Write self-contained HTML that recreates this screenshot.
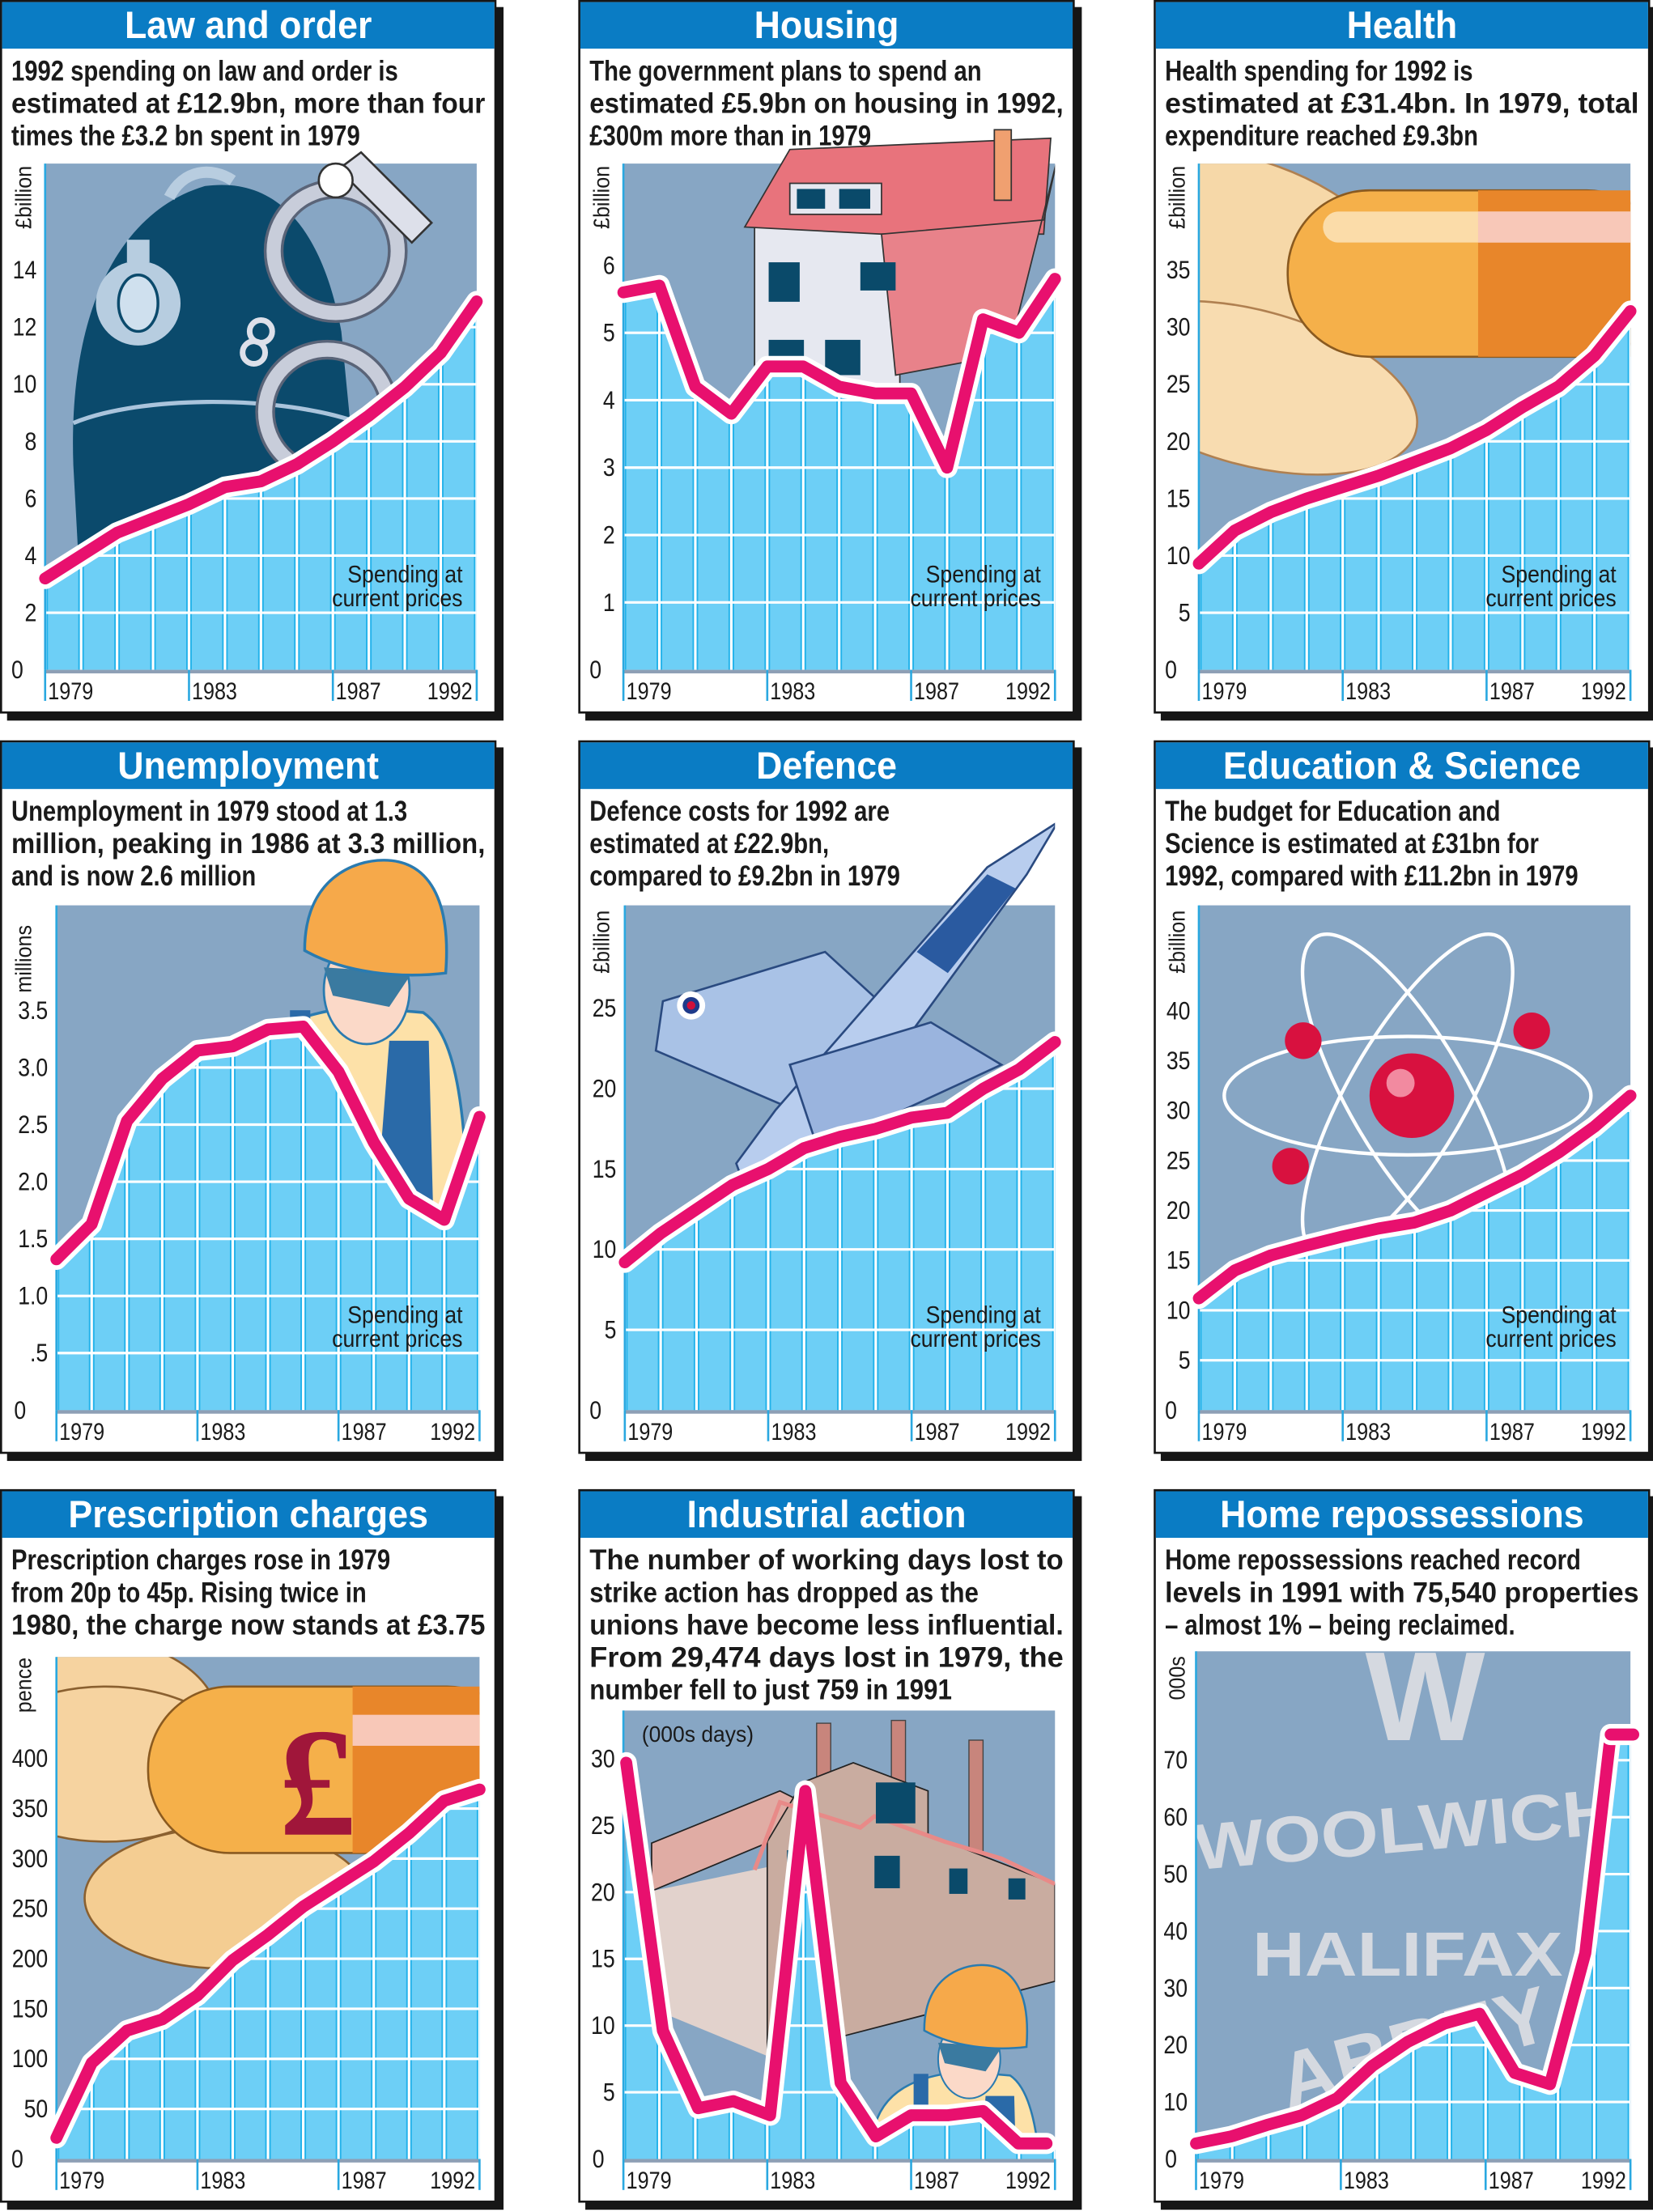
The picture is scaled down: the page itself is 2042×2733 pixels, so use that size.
<!DOCTYPE html>
<html><head><meta charset="utf-8">
<style>html,body{margin:0;padding:0;background:#fff}svg{display:block}</style>
</head><body>
<svg id="s" xmlns="http://www.w3.org/2000/svg" width="2042" height="2733" viewBox="0 0 1172 1568.6" font-family="'Liberation Sans', Arial, sans-serif"></svg>
<script>
const S=document.getElementById('s');
let out='';let cid=0;
function T(x,y,str,fs,opt){opt=opt||{};const sx=opt.sx||0.85;const w=opt.bold?'bold':'normal';
 const a=opt.anchor||'start';const fill=opt.fill||'#1a1a1a';
 let tl='';if(opt.max){const est=str.length*fs*0.57*sx;if(est>opt.max)tl=` textLength="${opt.max/sx}" lengthAdjust="spacingAndGlyphs"`;}
 const rot=opt.rot?` rotate(${opt.rot})`:'';
 return `<text transform="translate(${x},${y})${rot} scale(${sx},1)" font-size="${fs}" font-weight="${w}" text-anchor="${a}" fill="${fill}"${tl}>${str}</text>`;}
function panel(c){
 const L=c.left,R=c.right||338,Z=475,TOP=c.top;
 let g=`<g transform="translate(${c.x},${c.y})">`;
 g+=`<rect x="5" y="5" width="352" height="506" fill="#161616"/>`;
 g+=`<rect x="0.75" y="0.75" width="350.5" height="504.5" fill="#fff" stroke="#161616" stroke-width="1.5"/>`;
 g+=`<rect x="1.5" y="1.5" width="349" height="33" fill="#0a7cc4"/>`;
 g+=T(176,27,c.title,27,{bold:1,anchor:'middle',fill:'#fff',sx:0.95});
 const id='c'+(cid++);
 const n=c.vals.length;const xs=c.xs||c.vals.map((v,i)=>L+(R-L)*i/(n-1));
 const ys=c.vals;
 const ptop=c.ptop||TOP;
 g+=`<defs><clipPath id="${id}a"><rect x="${L}" y="${ptop}" width="${R-L}" height="${Z-ptop}"/></clipPath>`;
 let poly=xs.map((x,i)=>x+','+ys[i]).join(' ');
 let fillpts=poly+` ${R},${ys[n-1]} ${R},${Z} ${L},${Z}`;
 g+=`<clipPath id="${id}b"><polygon points="${fillpts}"/></clipPath></defs>`;
 g+=`<rect x="${L}" y="${TOP}" width="${R-L}" height="${Z-TOP}" fill="#87a6c4"/>`;
 g+=`<g clip-path="url(#${id}a)">${c.pic||''}</g>`;
 c.lines.forEach((l,i)=>{g+=T(8,57+i*23,l,20,{bold:1,max:336,sx:c.wide?0.9:0.84});});
 g+=`<polygon points="${fillpts}" fill="#6dcff6"/>`;
 g+=`<g clip-path="url(#${id}b)">`;
 for(let i=0;i<13;i++){const x=L+(R-L)*i/12;g+=`<line x1="${x}" y1="${TOP}" x2="${x}" y2="${Z}" stroke="#22b2ea" stroke-width="4"/><line x1="${x}" y1="${TOP}" x2="${x}" y2="${Z}" stroke="#fff" stroke-width="1.8"/>`;}
 c.ticks.forEach(t=>{if(t[1]<Z-2)g+=`<line x1="${L}" y1="${t[1]}" x2="${R}" y2="${t[1]}" stroke="#fff" stroke-width="1.8"/>`;});
 g+=`</g>`;
 g+=`<rect x="${L}" y="${Z}" width="${R-L}" height="2.5" fill="#8e9fb5"/>`;
 [0,4,8,12].forEach(i=>{const x=L+(R-L)*i/12;g+=`<line x1="${x}" y1="${Z}" x2="${x}" y2="${Z+22}" stroke="#2aa8e0" stroke-width="1.5"/>`;});
 g+=`<line x1="${L}" y1="${TOP}" x2="${L}" y2="${Z}" stroke="#2aa8e0" stroke-width="1.5"/>`;
 const fy=Z+21;
 g+=T(L+2,fy,'1979',17);g+=T(L+(R-L)/3+2,fy,'1983',17);g+=T(L+(R-L)*2/3+2,fy,'1987',17);g+=T(R-3,fy,'1992',17,{anchor:'end'});
 g+=`<polyline points="${poly}" fill="none" stroke="#fff" stroke-width="15" stroke-linejoin="round" stroke-linecap="round"/>`;
 g+=`<polyline points="${poly}" fill="none" stroke="#e8106e" stroke-width="8.5" stroke-linejoin="round" stroke-linecap="round"/>`;
 c.ticks.forEach(t=>{g+=T(t[2]!==undefined?t[2]:L-6,t[1]+6,t[0],18,{anchor:t[2]!==undefined?'start':'end'});});
 if(c.unit)g+=T(22,c.unitY,c.unit,16,{rot:-90,anchor:'middle',sx:0.9});
 if(c.spend){g+=T(328,413,'Spending at',17,{anchor:'end',sx:0.9});g+=T(328,430,'current prices',17,{anchor:'end',sx:0.9});}
 if(c.extra)g+=c.extra;
 g+='</g>';out+=g;}
function ticks(labels,step,zeroX){return labels.map((l,k)=>[l,475-k*step,k==0?zeroX:undefined]);}
function yv(vals,per){return vals.map(v=>475-v*per);}

const helmet=`<path d="M58,440 L52,330 C48,220 85,150 145,132 C195,125 228,160 242,235 L262,440 Z" fill="#0b4a6c"/>
<path d="M120,140 C130,120 150,118 165,128" stroke="#b8cde0" stroke-width="8" fill="none"/>
<path d="M52,300 C100,280 200,280 255,300" stroke="#aac4dc" stroke-width="3" fill="none"/>
<circle cx="98" cy="215" r="30" fill="#b7cde0"/><ellipse cx="98" cy="215" rx="14" ry="20" fill="#cfe0ee" stroke="#0b4a6c" stroke-width="2"/>
<rect x="90" y="170" width="16" height="16" fill="#b7cde0"/>
<circle cx="238" cy="178" r="44" fill="none" stroke="#5a6478" stroke-width="14"/><circle cx="238" cy="178" r="44" fill="none" stroke="#c8cdda" stroke-width="10"/>
<circle cx="232" cy="292" r="44" fill="none" stroke="#5a6478" stroke-width="14"/><circle cx="232" cy="292" r="44" fill="none" stroke="#c8cdda" stroke-width="10"/>
<polygon points="240,120 256,108 306,158 292,172" fill="#dde0ea" stroke="#333" stroke-width="1.5"/>
<circle cx="238" cy="128" r="12" fill="#fff" stroke="#333" stroke-width="1.5"/>
<circle cx="185" cy="235" r="8" fill="none" stroke="#dde0ea" stroke-width="4"/><circle cx="180" cy="250" r="8" fill="none" stroke="#dde0ea" stroke-width="4"/>`;
panel({x:0,y:0,title:'Law and order',lines:['1992 spending on law and order is','estimated at £12.9bn, more than four','times the £3.2 bn spent in 1979'],
 left:32,top:116,ptop:100,vals:yv([3.2,4.0,4.8,5.3,5.8,6.4,6.6,7.2,8.0,8.9,9.9,11.1,12.9],20.25),
 ticks:ticks(['0','2','4','6','8','10','12','14'],40.5,8),unit:'£billion',unitY:140,spend:1,pic:helmet});

const house=`<g transform="translate(0,6)"><polygon points="125,145 228,140 228,295 125,295" fill="#e6e8f0" stroke="#333" stroke-width="1"/>
<polygon points="118,155 150,100 335,92 330,160 215,160" fill="#e8737c" stroke="#333" stroke-width="1"/>
<polygon points="215,160 330,150 340,105 305,245 225,260" fill="#e8828a" stroke="#333" stroke-width="1"/>
<rect x="150" y="124" width="65" height="22" fill="#e6e8f0" stroke="#333"/><rect x="155" y="128" width="20" height="14" fill="#0a4a6a"/><rect x="185" y="128" width="22" height="14" fill="#0a4a6a"/>
<rect x="135" y="180" width="22" height="28" fill="#0a4a6a"/><rect x="135" y="235" width="25" height="25" fill="#0a4a6a"/><rect x="175" y="235" width="25" height="25" fill="#0a4a6a"/><rect x="200" y="180" width="25" height="20" fill="#0a4a6a"/>
<rect x="295" y="86" width="12" height="50" fill="#f0a070" stroke="#333"/></g>`;
panel({x:410,y:0,title:'Housing',lines:['The government plans to spend an','estimated £5.9bn on housing in 1992,','£300m more than in 1979'],
 left:32,top:116,ptop:85,vals:yv([5.6,5.7,4.2,3.8,4.5,4.5,4.2,4.1,4.1,3.0,5.2,5.0,5.8],47.8),
 ticks:ticks(['0','1','2','3','4','5','6'],47.8,8),unit:'£billion',unitY:140,spend:1,pic:house});

const pills=`<ellipse cx="70" cy="170" rx="110" ry="55" fill="#f6d8a8" stroke="#b08050" stroke-width="1.5" transform="rotate(20 70 170)"/>
<ellipse cx="70" cy="275" rx="120" ry="55" fill="#f8dcb0" stroke="#b08050" stroke-width="1.5" transform="rotate(15 70 275)"/>
<rect x="95" y="135" width="270" height="118" rx="58" fill="#f5b04a" stroke="#8a5a20" stroke-width="1.5"/>
<rect x="230" y="135" width="140" height="118" fill="#e8862a"/>
<rect x="120" y="150" width="240" height="22" rx="11" fill="#fde7c0" opacity="0.8"/>
<rect x="230" y="150" width="140" height="22" fill="#f8c8b8"/>`;
panel({x:818,y:0,title:'Health',lines:['Health spending for 1992 is','estimated at £31.4bn. In 1979, total','expenditure reached £9.3bn'],
 left:32,top:116,vals:yv([9.3,12.2,13.8,15,16,17,18.2,19.4,21,23,24.8,27.5,31.4],8.1),
 ticks:ticks(['0','5','10','15','20','25','30','35'],40.5,8),unit:'£billion',unitY:140,spend:1,pic:pills});

function worker(cx,cy,s){s=s||1;return `<g transform="translate(${cx},${cy}) scale(${s})"><path d="M-125,120 C-110,70 -60,60 -20,55 L40,60 C70,80 80,150 80,280 L-130,280 Z" fill="#fde1a8" stroke="#2a7bb0" stroke-width="2.5"/>
<rect x="-78" y="58" width="18" height="110" fill="#2a6aa8"/><path d="M10,85 L45,85 L50,280 L-5,280 Z" fill="#2a6aa8"/>
<ellipse cx="-10" cy="40" rx="38" ry="48" fill="#fbd9c8" stroke="#2a7bb0" stroke-width="2"/>
<path d="M-48,20 L30,25 L10,55 L-40,45 Z" fill="#3a7aa0"/>
<path d="M-65,5 C-65,-60 -20,-75 5,-75 C45,-75 65,-40 60,25 C20,30 -30,25 -65,5 Z" fill="#f6a94a" stroke="#2a7bb0" stroke-width="2.5"/></g>`;}
panel({x:0,y:525,title:'Unemployment',lines:['Unemployment in 1979 stood at 1.3','million, peaking in 1986 at 3.3 million,','and is now 2.6 million'],
 left:40,right:340,top:117,ptop:40,vals:[893,868,795,765,745,742,730,728,760,810,850,865,792].map(v=>v-525),
 ticks:ticks(['0','.5','1.0','1.5','2.0','2.5','3.0','3.5'],40.5,10),unit:'millions',unitY:155,spend:1,pic:worker(268,145,0.8)});

const jet=`<polygon points="60,185 175,150 235,205 160,265 55,220" fill="#a9c2e6" stroke="#2a4a80" stroke-width="1.5"/>
<polygon points="340,58 318,95 168,300 120,322 112,300 140,262 290,90" fill="#b8cdee" stroke="#2a4a80" stroke-width="1.5"/>
<polygon points="150,230 250,200 300,230 170,290" fill="#9ab4de" stroke="#2a4a80" stroke-width="1.5"/>
<polygon points="240,150 290,95 310,105 262,165" fill="#2a5aa0"/>
<circle cx="80" cy="188" r="10" fill="#fff"/><circle cx="80" cy="188" r="6" fill="#1e3a8a"/><circle cx="80" cy="188" r="3" fill="#d0103a"/>`;
panel({x:410,y:525,title:'Defence',lines:['Defence costs for 1992 are','estimated at £22.9bn,','compared to £9.2bn in 1979'],
 left:33,top:117,ptop:50,vals:yv([9.2,11,12.5,14,15,16.3,17,17.5,18.2,18.5,20,21.2,22.9],11.4),
 ticks:ticks(['0','5','10','15','20','25'],57,8),unit:'£billion',unitY:143,spend:1,pic:jet});

const atom=`<g fill="none" stroke="#fff" stroke-width="2.5"><ellipse cx="180" cy="252" rx="130" ry="42"/><ellipse cx="180" cy="252" rx="130" ry="42" transform="rotate(60 180 252)"/><ellipse cx="180" cy="252" rx="130" ry="42" transform="rotate(-60 180 252)"/></g>
<circle cx="183" cy="252" r="30" fill="#d8113f"/><circle cx="175" cy="243" r="10" fill="#f28aa0"/>
<circle cx="106" cy="213" r="13" fill="#d8113f"/><circle cx="268" cy="206" r="13" fill="#d8113f"/><circle cx="97" cy="302" r="13" fill="#d8113f"/>`;
panel({x:818,y:525,title:'Education &amp; Science',lines:['The budget for Education and','Science is estimated at £31bn for','1992, compared with £11.2bn in 1979'],
 left:32,top:117,vals:yv([11.2,14,15.5,16.5,17.4,18.2,18.8,20,21.8,23.6,25.8,28.4,31.5],7.08),
 ticks:ticks(['0','5','10','15','20','25','30','35','40'],35.4,8),unit:'£billion',unitY:143,spend:1,pic:atom});

const coins=`<ellipse cx="60" cy="165" rx="95" ry="60" fill="#f6d3a0" stroke="#8a6030" stroke-width="1.5"/>
<ellipse cx="75" cy="195" rx="95" ry="55" fill="#f6d3a0" stroke="#8a6030" stroke-width="1.5"/>
<ellipse cx="160" cy="290" rx="100" ry="50" fill="#f4cd92" stroke="#8a6030" stroke-width="1.5"/>
<rect x="105" y="140" width="270" height="118" rx="58" fill="#f5b04a" stroke="#8a5a20" stroke-width="1.5"/>
<rect x="250" y="140" width="120" height="118" fill="#e8862a"/><rect x="250" y="160" width="120" height="22" fill="#f8c8b8"/>
<text x="225" y="245" font-size="110" font-weight="bold" fill="#a0163a" text-anchor="middle" font-family="'Liberation Serif',serif">£</text>`;
panel({x:0,y:1056,title:'Prescription charges',lines:['Prescription charges rose in 1979','from 20p to 45p. Rising twice in','1980, the charge now stands at £3.75'],
 left:40,right:340,top:119,vals:[1516,1463,1440,1432,1415,1390,1372,1352,1336,1320,1300,1277,1269].map(v=>v-1056),
 ticks:ticks(['0','50','100','150','200','250','300','350','400'],35.5,8),unit:'pence',unitY:139,pic:coins});

const factory=`<polygon points="52,251 143,214 159,222 136,250 52,285" fill="#e0aca4" stroke="#222" stroke-width="1"/>
<polygon points="52,285 134,268 134,402 66,374 52,368" fill="#e2d2cc"/>
<rect x="169" y="166" width="10" height="45" fill="#c8857c" stroke="#444" stroke-width="0.8"/><rect x="222" y="164" width="10" height="48" fill="#c8857c" stroke="#444" stroke-width="0.8"/><rect x="277" y="178" width="10" height="86" fill="#c8857c" stroke="#444" stroke-width="0.8"/>
<polygon points="159,208 195,194 248,214 248,245 338,280 338,349 195,386 134,402 134,250" fill="#c9aca0" stroke="#222" stroke-width="1"/>
<polyline points="125,270 143,222 200,240 210,232 260,250 300,262 338,280" fill="none" stroke="#e88a88" stroke-width="3"/>
<rect x="211" y="208" width="28" height="29" fill="#0a4a6a"/><rect x="210" y="260" width="18" height="23" fill="#0a4a6a"/><rect x="263" y="269" width="13" height="18" fill="#0a4a6a"/><rect x="305" y="276" width="12" height="15" fill="#0a4a6a"/><rect x="148" y="256" width="8" height="22" fill="#0a4a6a"/>
${worker(283,381,0.58)}`;
panel({x:410,y:1056,title:'Industrial action',wide:1,lines:['The number of working days lost to','strike action has dropped as the','unions have become less influential.','From 29,474 days lost in 1979, the','number fell to just 759 in 1991'],
 left:32,top:157,xs:[34,60,85,110,136,161,186,211,236,262,287,312,332],vals:[1250,1440,1495,1490,1500,1270,1477,1515,1500,1500,1497,1520,1520].map(v=>v-1056),
 ticks:ticks(['0','5','10','15','20','25','30'],47.3,10),pic:factory,
 extra:T(45,179,'(000s days)',16,{sx:0.95})});

const logos=`<g fill="#d5d9e0" font-weight="bold" font-family="'Liberation Sans',sans-serif">
<text x="150" y="178" font-size="90">W</text>
<text x="30" y="270" font-size="46" transform="rotate(-5 30 270)" textLength="300" lengthAdjust="spacingAndGlyphs">WOOLWICH</text>
<text x="70" y="345" font-size="44" textLength="220" lengthAdjust="spacingAndGlyphs">HALIFAX</text>
<text x="95" y="440" font-size="56" transform="rotate(-15 95 440)">ABBEY</text>
<text x="105" y="495" font-size="56" transform="rotate(-15 105 495)">NATIO</text></g>`;
panel({x:818,y:1056,title:'Home repossessions',lines:['Home repossessions reached record','levels in 1991 with 75,540 properties','– almost 1% – being reclaimed.'],
 left:30,top:115,ptop:100,xs:[30,55,80,105,130,155,180,206,231,256,281,306,324],vals:[1520,1515,1507,1500,1488,1465,1448,1435,1428,1470,1478,1385,1230].map(v=>v-1056),
 ticks:ticks(['0','10','20','30','40','50','60','70'],40.4,8),unit:'000s',unitY:134,pic:logos,
 extra:`<polyline points="324,174 340,174" stroke="#fff" stroke-width="15" stroke-linecap="round"/><polyline points="324,174 340,174" stroke="#e8106e" stroke-width="8.5" stroke-linecap="round"/>`});
S.innerHTML=out;
</script>
</body></html>
